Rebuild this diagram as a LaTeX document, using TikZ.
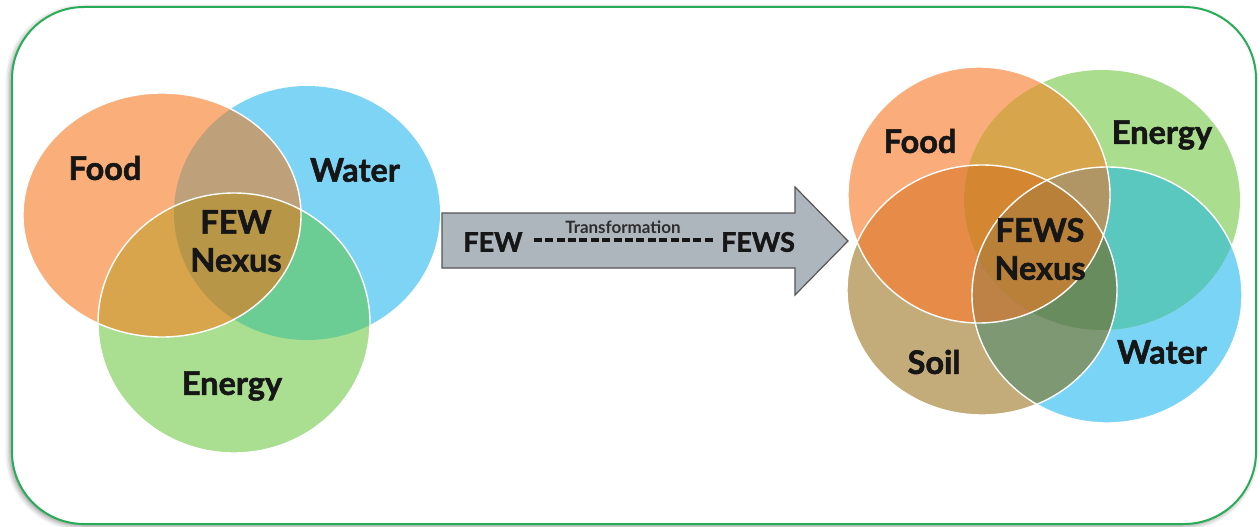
\documentclass[tikz,border=0pt]{standalone}
\usepackage{fontspec}
\setmainfont{Lato}
\newfontfamily\heavy{Lato}[BoldFeatures={FakeBold=1.6}]
\usetikzlibrary{shadows.blur}
\definecolor{framegreen}{RGB}{40,172,88}
\definecolor{txt}{RGB}{22,22,22}
% left venn
\definecolor{lF}{RGB}{250,174,122}
\definecolor{lW}{RGB}{125,212,245}
\definecolor{lE}{RGB}{170,222,144}
\definecolor{lFW}{RGB}{190,160,122}
\definecolor{lFE}{RGB}{216,165,76}
\definecolor{lWE}{RGB}{108,205,148}
\definecolor{lFWE}{RGB}{184,150,72}
% right venn
\definecolor{rF}{RGB}{250,172,122}
\definecolor{rE}{RGB}{170,222,142}
\definecolor{rW}{RGB}{122,212,245}
\definecolor{rS}{RGB}{195,172,122}
\definecolor{rFE}{RGB}{215,165,75}
\definecolor{rFS}{RGB}{230,140,72}
\definecolor{rFW}{RGB}{190,155,110}
\definecolor{rEW}{RGB}{90,200,190}
\definecolor{rWS}{RGB}{125,152,115}
\definecolor{rES}{RGB}{180,190,120}
\definecolor{rFES}{RGB}{212,135,48}
\definecolor{rFEW}{RGB}{175,150,100}
\definecolor{rFWS}{RGB}{190,130,70}
\definecolor{rEWS}{RGB}{105,140,95}
\definecolor{rFEWS}{RGB}{185,128,58}
\definecolor{arrowfill}{RGB}{174,182,189}
\definecolor{arrowline}{RGB}{85,85,85}
\tikzset{
  lbl/.style={text=txt, font=\heavy\fontsize{32.5}{38}\selectfont\bfseries, inner sep=0pt, align=center},
  arlbl/.style={text=txt, font=\heavy\fontsize{27}{30}\selectfont\bfseries, inner sep=0pt},
  smalllbl/.style={text=txt!90, font=\fontsize{17}{19}\selectfont\bfseries, inner sep=0pt},
  dashline/.style={draw=txt, line width=3.4pt, dash pattern=on 8pt off 3.4pt},
  rim/.style={draw=white, line width=1.4pt}
}
\def\LF{(162,215) ellipse [x radius=139pt, y radius=122pt]}
\def\LW{(307,213) ellipse [x radius=133pt, y radius=127pt]}
\def\LE{(234,323) ellipse [x radius=136pt, y radius=130pt]}
\def\RF{(979,195) ellipse [x radius=131pt, y radius=128pt]}
\def\RE{(1102,200) ellipse [x radius=138pt, y radius=130pt]}
\def\RW{(1107,295) ellipse [x radius=135pt, y radius=128pt]}
\def\RS{(982,290) ellipse [x radius=135pt, y radius=125pt]}
\begin{document}
\begin{tikzpicture}[x=1pt,y=-1pt]
\useasboundingbox (0,0) rectangle (1260,527);
% frame
\path[fill=white, draw=framegreen, line width=2pt, rounded corners=72pt,
  blur shadow={shadow xshift=-2pt, shadow yshift=-2pt, shadow blur radius=5pt, shadow opacity=45}]
  (12,7) rectangle (1256,524);

% ---------- left Venn ----------
\fill[lW] \LW;
\fill[lE] \LE;
\fill[lF] \LF;
\begin{scope}\clip \LW; \fill[lWE] \LE; \end{scope}
\begin{scope}\clip \LF; \fill[lFW] \LW; \fill[lFE] \LE; \end{scope}
\begin{scope}\clip \LF; \clip \LW; \fill[lFWE] \LE; \end{scope}
\draw[rim] \LE;
\draw[rim] \LF;

% ---------- right Venn ----------
\fill[rS] \RS;
\fill[rW] \RW;
\fill[rE] \RE;
\fill[rF] \RF;
\begin{scope}\clip \RF; \fill[rFE] \RE; \fill[rFS] \RS; \fill[rFW] \RW; \end{scope}
\begin{scope}\clip \RE; \fill[rEW] \RW; \fill[rES] \RS; \end{scope}
\begin{scope}\clip \RW; \fill[rWS] \RS; \end{scope}
\begin{scope}\clip \RF; \clip \RE; \fill[rFES] \RS; \fill[rFEW] \RW; \end{scope}
\begin{scope}\clip \RF; \clip \RW; \fill[rFWS] \RS; \end{scope}
\begin{scope}\clip \RE; \clip \RW; \fill[rEWS] \RS; \end{scope}
\begin{scope}\clip \RF; \clip \RE; \clip \RW; \fill[rFEWS] \RS; \end{scope}
\draw[rim] \RW;
\draw[rim] \RS;
\draw[rim] \RF;

% ---------- arrow ----------
\draw[fill=arrowfill, draw=arrowline, line width=1.2pt, line join=miter]
  (442,213) -- (795,213) -- (795,187) -- (848,241) -- (795,295) -- (795,268) -- (442,268) -- cycle;
\node[arlbl] (few) at (493,242) {FEW};
\node[arlbl] (fews) at (758,242) {FEWS};
\draw[dashline, shorten <=11pt, shorten >=8pt] ([yshift=2pt]few.east) -- ([yshift=2pt]fews.west);
\node[smalllbl] (trans) at (623,227) {Transformation};

% ---------- labels ----------
\node[lbl] (lfood) at (105,168) {Food};
\node[lbl] (lwater) at (355,170) {Water};
\node[lbl] (lnexus) at (236,241) {FEW\\Nexus};
\node[lbl] (lenergy) at (232,386) {Energy};
\node[lbl] (rfood) at (920,141) {Food};
\node[lbl] (renergy) at (1162,135) {Energy};
\node[lbl] (rnexus) at (1040,249) {FEWS\\Nexus};
\node[lbl] (rsoil) at (934,362) {Soil};
\node[lbl] (rwater) at (1162,352) {Water};
\end{tikzpicture}
\end{document}
